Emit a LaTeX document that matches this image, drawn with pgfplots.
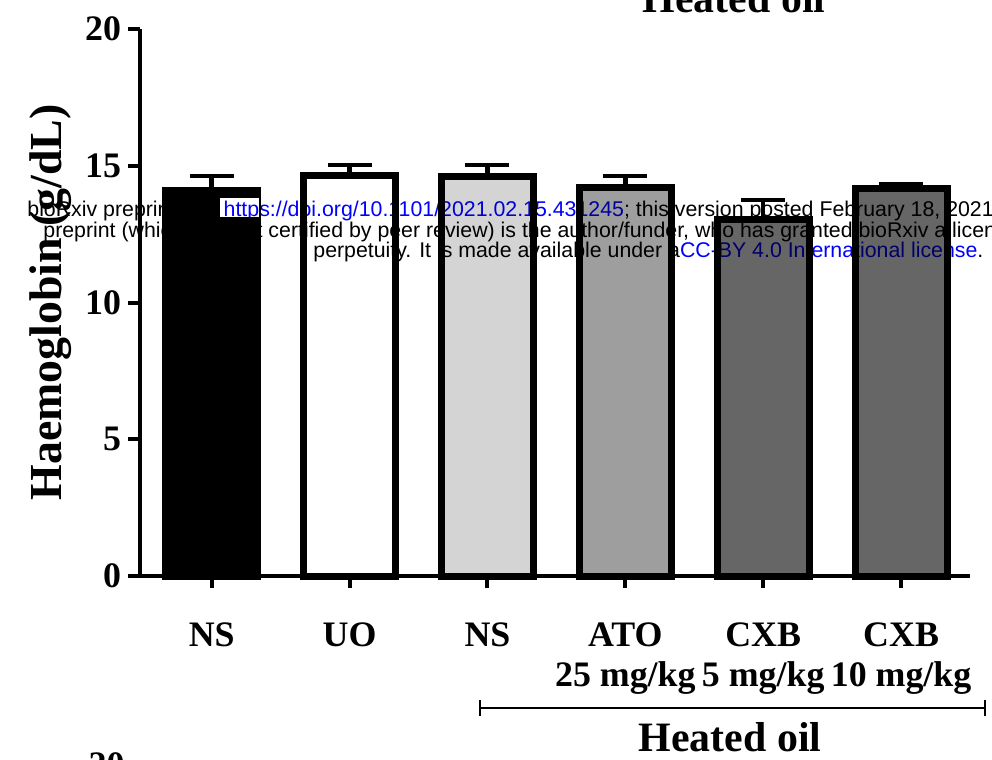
\documentclass[border=0pt]{standalone}
\usepackage{fontspec}
\setmainfont{Liberation Serif}
\newfontfamily\wmfont{Liberation Sans}
\usepackage{pgfplots}
\pgfplotsset{compat=1.18}
\definecolor{lgray}{RGB}{212,212,212}
\definecolor{mgray}{RGB}{158,158,158}
\definecolor{dgray}{RGB}{102,102,102}
\definecolor{wmblue}{RGB}{0,0,255}
\begin{document}
\begin{tikzpicture}[x=1bp,y=1bp]
\path[use as bounding box] (0,0) rectangle (496,379.5);
\begin{axis}[
 at={(70bp,91.5bp)}, anchor=south west,
 scale only axis, width=415bp, height=273.5bp,
 xmin=-0.52, xmax=5.5, ymin=0, ymax=20,
 axis x line=bottom, axis y line=left,
 axis line style={line width=2bp, -},
 xtick={0,...,5}, ytick={0,5,10,15,20},
 xticklabels={NS,UO,NS,ATO\\25 mg/kg,CXB\\5 mg/kg,CXB\\10 mg/kg},
 tick align=outside, major tick length=6bp,
 tick style={line width=2bp, black},
 xticklabel style={align=center, font=\bfseries\fontsize{18}{20}\selectfont, yshift=-14bp},
 yticklabel style={font=\bfseries\fontsize{18}{20}\selectfont},
 /pgf/number format/assume math mode=true,
 ylabel={Haemoglobin (g/dL)},
 ylabel style={font=\bfseries\fontsize{23}{26}\selectfont},
 clip=false,
 every axis plot/.append style={ybar, bar width=0.667, bar shift=0pt, draw=black, line width=3.5bp,
   error bars/y dir=plus, error bars/y explicit,
   error bars/error bar style={line width=2.2bp, black},
   error bars/error mark options={rotate=90, line width=2.2bp, mark size=11bp, black}},
]
\addplot[fill=black] coordinates {(0,14.08) +- (0,0.54)};
\addplot[fill=white] coordinates {(1,14.63) +- (0,0.40)};
\addplot[fill=lgray] coordinates {(2,14.59) +- (0,0.44)};
\addplot[fill=mgray] coordinates {(3,14.22) +- (0,0.40)};
\addplot[fill=dgray] coordinates {(4,13.02) +- (0,0.73)};
\addplot[fill=dgray] coordinates {(5,14.15) +- (0,0.18)};
\end{axis}
% bracket
\draw[line width=1bp] (240,25.5) -- (492.5,25.5);
\draw[line width=1bp] (240,21.5) -- (240,29.5);
\draw[line width=1bp] (492.5,21.5) -- (492.5,29.5);
\node[font=\bfseries\fontsize{21}{24}\selectfont] at (365,11) {Heated oil};
% partial texts of neighbouring panels
\node[anchor=base, font=\bfseries\fontsize{21}{24}\selectfont] at (367,373.5) {Heated oil};
\node[anchor=north east, inner sep=0, font=\bfseries\fontsize{18}{20}\selectfont] at (62.5,3.5) {20};
% watermark
\fill[white] (110,271) rectangle (129.5,280.5);
\begin{scope}[blend mode=multiply]
\node[anchor=base west, inner sep=0, font=\wmfont\fontsize{10.7}{12}\selectfont] at (13.5,271.5) {bioRxiv preprint doi: \textcolor{wmblue}{https://doi.org/10.1101/2021.02.15.431245}; this version posted February 18, 2021. The copyright holder for this};
\node[anchor=base west, inner sep=0, font=\wmfont\fontsize{10.7}{12}\selectfont] at (21.5,261) {preprint (which was not certified by peer review) is the author/funder, who has granted bioRxiv a license to display the preprint in};
\node[anchor=base west, inner sep=0, font=\wmfont\fontsize{10.7}{12}\selectfont] at (156.5,251) {perpetuity. It is made available under a\textcolor{wmblue}{CC-BY 4.0 International license}.};
\end{scope}
\end{tikzpicture}
\end{document}
